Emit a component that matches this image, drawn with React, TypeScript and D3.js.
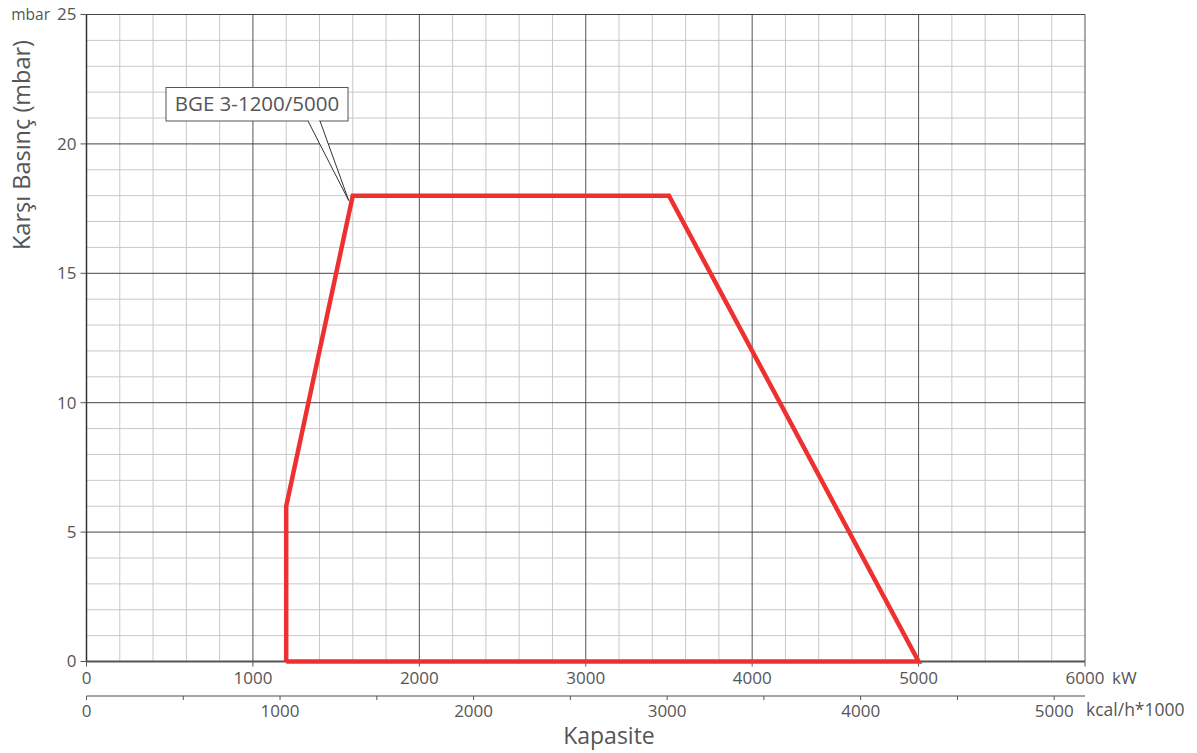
import React from "react";
import * as d3 from "d3";

const kwTicks = [0, 1000, 2000, 3000, 4000, 5000, 6000];
const kcalTicks = [0, 1000, 2000, 3000, 4000, 5000];
const kcalMinorTicks = [500, 1500, 2500, 3500, 4500];
const yTicks = [0, 5, 10, 15, 20, 25];
const curveKW = [1200, 1200, 1600, 3500, 5000, 1200];
const curveMbar = [0, 6, 18, 18, 0, 0];
const seriesLabel = "BGE 3-1200/5000";
const KCAL_TO_KW = 1.163;

const W = 1197, H = 753;
const M = { left: 86.5, right: 1085, top: 14.5, bottom: 661.5 };
const FONT = "'Open Sans', 'DejaVu Sans', sans-serif";
const TXT = "#555";

export default function App() {
  const x = d3.scaleLinear().domain([0, 6000]).range([M.left, M.right]);
  const y = d3.scaleLinear().domain([0, 25]).range([M.bottom, M.top]);
  const xMinor = d3.range(0, 6001, 200);
  const yMinor = d3.range(0, 26, 1);
  const pts: [number, number][] = curveKW.map((v, i) => [x(v), y(curveMbar[i])]);
  const line = d3.line().curve(d3.curveLinear)(pts) || "";
  const axis2Y = 696;
  const tip = [x(1600) - 4, y(18) + 5];

  return (
    <svg width={W} height={H} style={{ position: "absolute", left: 0, top: 0 }} fontFamily={FONT}>
      <rect width={W} height={H} fill="#fff" />
      {xMinor.filter(v => v % 1000 !== 0).map(v => (
        <line key={"xm" + v} x1={x(v)} x2={x(v)} y1={M.top} y2={M.bottom} stroke="#c8c8c8" strokeWidth={1} />
      ))}
      {yMinor.filter(v => v % 5 !== 0).map(v => (
        <line key={"ym" + v} x1={M.left} x2={M.right} y1={y(v)} y2={y(v)} stroke="#c8c8c8" strokeWidth={1} />
      ))}
      {kwTicks.map(v => (
        <line key={"xM" + v} x1={x(v)} x2={x(v)} y1={M.top} y2={M.bottom} stroke="#555" strokeWidth={1} />
      ))}
      {yTicks.map(v => (
        <line key={"yM" + v} x1={M.left} x2={M.right} y1={y(v)} y2={y(v)} stroke="#444" strokeWidth={1} />
      ))}
      <line x1={M.left} x2={M.left} y1={M.top} y2={M.bottom} stroke="#333" strokeWidth={1.5} />
      <line x1={M.left} x2={M.right} y1={M.bottom} y2={M.bottom} stroke="#555" strokeWidth={2} />
      {yTicks.map(v => (
        <g key={"yt" + v}>
          <line x1={M.left - 6} x2={M.left} y1={y(v)} y2={y(v)} stroke="#555" strokeWidth={1} />
          <text x={M.left - 10} y={y(v)} dy="0.35em" textAnchor="end" fontSize={17} fill={TXT}>{v}</text>
        </g>
      ))}
      <text x={50} y={y(25)} dy="0.35em" textAnchor="end" fontSize={15.5} fill={TXT}>mbar</text>
      {kwTicks.map(v => (
        <g key={"xt" + v}>
          <line x1={x(v)} x2={x(v)} y1={M.bottom} y2={M.bottom + 5} stroke="#555" strokeWidth={1} />
          <text x={x(v)} y={M.bottom + 22} textAnchor="middle" fontSize={17} fill={TXT}>{v}</text>
        </g>
      ))}
      <text x={M.right + 27} y={M.bottom + 22} fontSize={17} fill={TXT}>kW</text>
      <line x1={M.left} x2={M.right} y1={axis2Y} y2={axis2Y} stroke="#888" strokeWidth={1.5} />
      {kcalTicks.map(v => (
        <g key={"kt" + v}>
          <line x1={x(v * KCAL_TO_KW)} x2={x(v * KCAL_TO_KW)} y1={axis2Y} y2={axis2Y + 4} stroke="#555" strokeWidth={1} />
          <text x={x(v * KCAL_TO_KW)} y={axis2Y + 21} textAnchor="middle" fontSize={17} fill={TXT}>{v}</text>
        </g>
      ))}
      {kcalMinorTicks.map(v => (
        <line key={"km" + v} x1={x(v * KCAL_TO_KW)} x2={x(v * KCAL_TO_KW)} y1={axis2Y} y2={axis2Y + 4} stroke="#555" strokeWidth={1} />
      ))}
      <text x={M.right + 1} y={axis2Y + 20} fontSize={17.5} fill={TXT}>kcal/h*1000</text>
      <text x={609} y={744} textAnchor="middle" fontSize={23} fill={TXT}>Kapasite</text>
      <text transform={`translate(30,${145}) rotate(-90)`} textAnchor="middle" fontSize={23.5} fill={TXT}>Karşı Basınç (mbar)</text>
      <path d={line} fill="none" stroke="#ee3030" strokeWidth={4.5} strokeLinejoin="miter" />
      <path d={`M308,121 L${tip[0]},${tip[1]} L320,121`} fill="#fff" stroke="#333" strokeWidth={1} />
      <rect x={166} y={87.5} width={182} height={33.5} fill="#fff" stroke="#555" strokeWidth={1} />
      <line x1={309} x2={319} y1={121} y2={121} stroke="#fff" strokeWidth={1.5} />
      <text x={257} y={111} textAnchor="middle" fontSize={20.5} fill={TXT}>{seriesLabel}</text>
    </svg>
  );
}
